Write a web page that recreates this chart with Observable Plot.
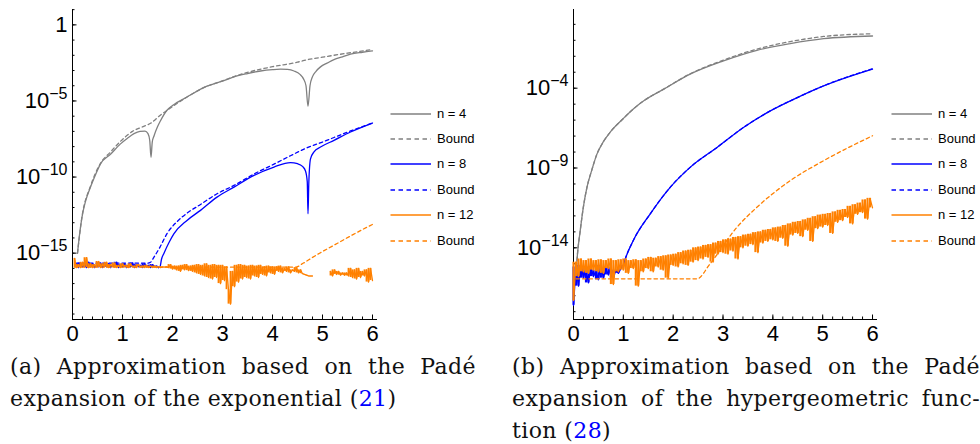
<!DOCTYPE html>
<html><head><meta charset="utf-8">
<script src="https://cdn.jsdelivr.net/npm/d3@7"></script>
<script src="https://cdn.jsdelivr.net/npm/@observablehq/plot@0.6"></script>
<style>
html,body{margin:0;padding:0;background:#fff;}
#page{position:relative;width:980px;height:444px;overflow:hidden;background:#fff;}
.panel{position:absolute;top:0;}
.legend{position:absolute;font-family:"Liberation Sans",Arial,sans-serif;font-size:13px;color:#000;}
.legend .row{position:absolute;left:0;height:16px;width:100px;white-space:nowrap;}
.legend svg{position:absolute;left:0;top:0;}
.legend span{position:absolute;top:0;line-height:16px;}
.caption{position:absolute;font-family:"DejaVu Serif",serif;font-size:22px;line-height:32px;color:#111;letter-spacing:0.4px;white-space:nowrap;}
.caption .j{text-align:justify;text-align-last:justify;white-space:normal;}
.ref{color:#0000ff;}
</style></head><body><div id="page"></div>
<script>
const COLORS = {gray: "#808080", blue: "#0000ff", orange: "#ff8000"};
const legendLabels = ["n = 4", "Bound", "n = 8", "Bound", "n = 12", "Bound"];
const xMajorTicks = [0, 1, 2, 3, 4, 5, 6];
const xMinorTicks = d3.range(0, 6.001, 0.2);

// ---------- Panel (a): log10 of the error ----------
const yExpA = [-19.36, 1.01];
const yMajorA = [0, -5, -10, -15];
const grayA_x = [0.10,0.14,0.19,0.26,0.36,0.46,0.56,0.76,0.96,1.10,1.23,1.35,1.45,1.51,1.545,1.57,1.595,1.63,1.70,1.76,1.89,2.00,2.29,2.69,3.00,3.23,3.50,3.76,4.00,4.16,4.30,4.43,4.55,4.62,4.67,4.71,4.75,4.80,4.87,4.96,5.10,5.23,5.40,5.56,5.80,6.00];
const grayA_y = [-15.0,-13.8,-12.63,-11.6,-10.66,-9.85,-9.13,-8.5,-7.82,-7.45,-7.15,-7.0,-6.98,-7.15,-7.6,-8.7,-7.7,-7.3,-6.7,-6.3,-5.61,-5.3,-4.74,-4.03,-3.7,-3.42,-3.2,-3.03,-2.94,-2.91,-2.93,-3.03,-3.25,-3.55,-4.0,-5.35,-4.0,-3.4,-3.05,-2.76,-2.5,-2.28,-2.1,-1.93,-1.8,-1.71];
const grayBoundA_x = [0.10,0.19,0.36,0.56,0.76,0.96,1.20,1.40,1.57,1.75,1.90,2.29,2.69,3.00,3.23,3.50,4.00,4.50,4.71,5.00,5.50,6.00];
const grayBoundA_y = [-15.0,-12.6,-10.6,-9.1,-8.35,-7.65,-7.0,-6.7,-6.45,-5.95,-5.6,-4.74,-4.03,-3.68,-3.4,-3.12,-2.75,-2.45,-2.28,-2.12,-1.86,-1.62];
const blueNoiseA_x0 = 0.08, noiseStepA = 0.04;
const blueNoiseA_y = [-15.7,-15.95,-15.65,-15.9,-15.75,-15.95,-15.6,-15.9,-15.7,-15.95,
  -15.8,-15.9,-15.65,-15.95,-15.75,-15.9,-15.7,-15.95,-15.8,-15.9,
  -15.6,-15.95,-15.75,-15.9,-15.7,-15.95,-15.8,-15.9,-15.65,-15.95,
  -15.75,-15.9,-15.8,-15.95,-15.7,-15.9,-15.8,-15.95,-15.75,-15.9,
  -15.85,-15.95];
const blueA_x = [1.72,1.75,1.78,1.83,1.93,2.03,2.29,2.56,2.89,3.23,3.63,4.03,4.36,4.50,4.60,4.66,4.695,4.71,4.725,4.76,4.83,4.96,5.23,5.56,6.00];
const blueA_y = [-15.95,-15.9,-15.4,-15.0,-14.3,-13.72,-12.85,-12.19,-11.32,-10.66,-9.89,-9.34,-9.05,-9.12,-9.3,-9.6,-10.3,-12.41,-10.5,-8.8,-8.35,-8.03,-7.59,-7.04,-6.45];
const blueBoundA_x = [0.08,1.50,1.56,1.63,1.75,1.89,2.10,2.30,2.56,2.89,3.23,3.63,4.03,4.36,4.71,5.00,5.23,5.56,6.00];
const blueBoundA_y = [-15.66,-15.66,-15.6,-15.26,-14.6,-13.72,-12.9,-12.35,-11.8,-11.1,-10.55,-9.8,-9.15,-8.6,-8.05,-7.7,-7.4,-6.97,-6.45];
const orangeA1_x0 = 0.04;
const orangeA1_y = [-15.35,-15.95,-15.75,-15.95,-15.6,-15.9,-15.3,-15.95,-15.7,-15.95,
  -15.75,-15.9,-15.55,-15.95,-15.7,-15.9,-15.6,-15.95,-15.75,-15.9,
  -15.65,-15.95,-15.8,-15.95,-15.7,-15.9,-15.8,-15.95,-15.7,-15.9,
  -15.85,-15.95,-15.75,-15.9,-15.85,-15.95,-15.8,-15.95,-15.85,-15.95,
  -15.85,-15.95,-15.88,-15.95,-15.9,-15.92,-15.9,-15.95,-15.75,-16.05,
  -15.85,-16.1,-15.85,-16.2,-15.8,-16.1,-15.75,-16.15,-15.85,-16.2,
  -15.8,-16.3,-15.75,-16.4,-15.8,-16.5,-15.7,-16.6,-15.8,-16.7,
  -15.75,-16.6,-15.8,-17.0,-15.8,-16.8,-15.9,-17.4,-18.35,-16.2,
  -17.2,-15.8,-16.9,-15.75,-16.7,-15.8,-16.6,-15.85,-16.7,-15.8,
  -16.5,-15.85,-16.6,-15.8,-16.4,-15.9,-16.5,-15.85,-16.3,-15.9,
  -16.4,-15.9,-16.2,-15.85,-16.3,-16.0,-16.2,-15.9,-16.3,-16.1,
  -16.2,-15.95,-16.3,-16.1,-16.35,-16.4,-16.45,-16.5,-16.5,-16.5];
const orangeA2_x0 = 5.16;
const orangeA2_y = [-16.2,-16.5,-16.1,-16.4,-16.2,-16.45,-16.3,-16.45,-16.3,-16.5,-16.0,-16.6,-16.1,-16.7,-16.0,-16.6,-16.2,-16.5,-16.1,-16.9,-16.0,-16.8];
const orangeBoundA_x = [0.04,4.46,4.62,4.80,4.96,5.30,5.60,6.00];
const orangeBoundA_y = [-15.92,-15.92,-15.65,-15.28,-14.97,-14.35,-13.8,-13.11];

// ---------- Panel (b) ----------
const yExpB = [-18.49, 0.93];
const yMajorB = [-4, -9, -14];
const grayB_x = [0.06,0.08,0.135,0.2,0.27,0.37,0.47,0.6,0.74,1.0,1.2,1.41,1.81,2.34,3.01,3.68,4.35,5.02,6.0];
const grayB_y = [-15.2,-14.38,-12.92,-11.4,-10.21,-9.1,-8.13,-7.35,-6.74,-5.9,-5.3,-4.79,-4.06,-3.12,-2.29,-1.63,-1.21,-0.9,-0.73];
const grayBoundB_x = [0.06,0.08,0.135,0.2,0.27,0.37,0.47,0.6,0.74,1.0,1.2,1.41,1.81,2.34,3.01,3.68,4.35,5.02,6.0];
const grayBoundB_y = [-15.2,-14.38,-12.92,-11.4,-10.21,-9.1,-8.13,-7.35,-6.74,-5.9,-5.3,-4.79,-4.06,-3.1,-2.24,-1.55,-1.08,-0.76,-0.59];
const blueNoiseB_x0 = 0, noiseStepB = 0.05;
const blueNoiseB_y = [-17.6,-15.2,-16.4,-15.1,-15.9,-15.3,-16.2,-15.2,-15.8,-15.4,-16.0,-15.1,-15.9,-15.3,-15.7,-15.2,-15.9,-15.4,-15.6,-15.3,-15.1];
const blueB_x = [1.0,1.04,1.2,1.54,1.94,2.34,2.88,3.41,3.95,4.49,5.02,6.0];
const blueB_y = [-15.1,-14.69,-13.54,-11.87,-10.21,-8.96,-7.71,-6.46,-5.42,-4.59,-3.86,-2.81];
const blueBoundB_y = [-15.1,-14.69,-13.54,-11.87,-10.21,-8.96,-7.71,-6.46,-5.42,-4.59,-3.85,-2.78];
const orangeB_x0 = 0;
const orangeB_y = [-17.3,-14.9,-15.8,-14.7,-15.5,-14.8,-15.6,-14.7,-15.4,-14.8,
  -15.5,-14.75,-15.6,-14.8,-15.3,-14.7,-16.3,-14.8,-15.5,-14.75,
  -15.4,-14.7,-15.6,-14.8,-15.3,-14.75,-16.4,-14.8,-15.5,-14.7,
  -15.3,-14.6,-15.5,-14.65,-15.2,-14.55,-15.4,-14.5,-15.9,-14.45,
  -15.1,-14.4,-15.2,-14.3,-15.0,-14.2,-15.1,-14.15,-14.9,-14.0,
  -14.8,-13.95,-14.7,-13.85,-14.6,-13.8,-14.9,-13.7,-14.4,-13.6,
  -14.3,-13.5,-14.4,-13.45,-14.2,-13.35,-14.7,-13.3,-14.0,-13.2,
  -13.9,-13.15,-13.8,-13.05,-14.3,-13.0,-13.7,-12.9,-13.6,-12.85,
  -13.5,-12.75,-13.6,-12.7,-13.4,-12.6,-13.9,-12.5,-13.2,-12.4,
  -13.1,-12.35,-13.3,-12.25,-12.9,-12.15,-13.6,-12.05,-12.8,-11.95,
  -12.7,-11.9,-12.6,-11.85,-13.1,-11.75,-12.4,-11.65,-12.3,-11.6,
  -12.1,-11.4,-12.5,-11.3,-11.9,-11.2,-11.8,-11.0,-12.2,-10.9,
  -11.5];
const orangeBoundB_x = [0.05,2.48,2.74,3.28,3.68,4.35,5.02,6.0];
const orangeBoundB_y = [-15.94,-15.94,-15.0,-12.71,-11.46,-9.79,-8.54,-6.98];

// ---------- helpers ----------
const pts = (xs, ys) => xs.map((x, i) => ({x, y: 10 ** ys[i]}));
const grid = (x0, step, ys) => ys.map((v, i) => ({x: x0 + i * step, y: 10 ** v}));
// vertical strokes between consecutive samples of a noisy series (dense-noise look)
const strokes = d => d.slice(0, -1).map((p, i) => ({x: p.x, y1: p.y, y2: d[i + 1].y}));
const SOLID = 1.3, DASH = "3.5,3";
const AXIS_FONT = 22;

function makePanel({marginLeft, marginRight, yExp, yMajor, series, noiseWidth}) {
  const yDomain = [10 ** yExp[0], 10 ** yExp[1]];
  const decades = d3.range(Math.ceil(yExp[0]), Math.floor(yExp[1]) + 1).map(e => 10 ** e);
  const majors = yMajor.map(e => 10 ** e);
  const fmt = d => { const e = Math.round(Math.log10(d)); return e === 0 ? "1" : "10^" + e; };
  const marks = [
    Plot.ruleX([0], {stroke: "#000", strokeWidth: 1}),
    Plot.ruleY([yDomain[0]], {stroke: "#000", strokeWidth: 1}),
    Plot.axisY({ticks: decades, tickSize: -2.5, tickFormat: () => "", label: null}),
    Plot.axisY({ticks: majors, tickSize: -4.5, tickFormat: () => "", label: null}),
    Plot.axisY({ticks: majors, tickSize: 0, tickPadding: 5, tickFormat: fmt, label: null, fontSize: AXIS_FONT}),
    Plot.axisX({ticks: xMinorTicks, tickSize: -2.5, tickFormat: () => "", label: null}),
    Plot.axisX({ticks: xMajorTicks, tickSize: -4.5, tickFormat: () => "", label: null}),
    Plot.axisX({ticks: xMajorTicks, tickSize: 0, tickPadding: 6, tickFormat: d => String(d), label: null, fontSize: AXIS_FONT})
  ];
  for (const s of series) {
    marks.push(Plot.line(s.data, {x: "x", y: "y", stroke: s.color, strokeWidth: SOLID,
      strokeDasharray: s.dashed ? DASH : null, strokeLinejoin: "round",
      curve: s.noisy ? "linear" : "monotone-x"}));
    if (s.noisy) marks.push(Plot.ruleX(strokes(s.data), {x: "x", y1: "y1", y2: "y2", stroke: s.color, strokeWidth: noiseWidth}));
  }
  const svg = Plot.plot({
    width: 490, height: 345, marginLeft, marginRight, marginTop: 9, marginBottom: 26,
    x: {domain: [0, 6.1], label: null},
    y: {type: "log", domain: yDomain, label: null},
    style: {fontFamily: "'Liberation Sans', Arial, sans-serif", fontSize: AXIS_FONT + "px", color: "#000", background: "transparent", overflow: "visible"},
    marks
  });
  svg.querySelectorAll('g[aria-label="y-axis tick label"] text').forEach(t => {
    const m = t.textContent.match(/^10\^(.+)$/);
    if (m) {
      t.textContent = "10";
      const ts = document.createElementNS("http://www.w3.org/2000/svg", "tspan");
      ts.setAttribute("dy", "-9");
      ts.setAttribute("font-size", "16");
      ts.textContent = m[1].replace("-", "\u2212");
      t.appendChild(ts);
    }
  });
  return svg;
}

function makeLegend(left, top, entries) {
  const div = document.createElement("div");
  div.className = "legend";
  div.style.left = left + "px";
  div.style.top = top + "px";
  entries.forEach((e, i) => {
    const row = document.createElement("div");
    row.className = "row";
    row.style.top = (i * 25.45) + "px";
    row.innerHTML = `<svg width="42" height="16"><line x1="0.5" x2="41" y1="8" y2="8" stroke="${e.color}" stroke-width="1.5" ${e.dashed ? 'stroke-dasharray="4.5,3.5"' : ''}/></svg><span style="left:47px">${e.label}</span>`;
    div.appendChild(row);
  });
  return div;
}

const page = document.getElementById("page");
const order = [["gray", false], ["gray", true], ["blue", false], ["blue", true], ["orange", false], ["orange", true]];
const legendEntries = order.map(([c, d], i) => ({color: COLORS[c], dashed: d, label: legendLabels[i]}));

const svgA = makePanel({
  marginLeft: 72, marginRight: 113, yExp: yExpA, yMajor: yMajorA, noiseWidth: 1.8,
  series: [
    {data: pts(grayA_x, grayA_y), color: COLORS.gray},
    {data: pts(grayBoundA_x, grayBoundA_y), color: COLORS.gray, dashed: true},
    {data: grid(blueNoiseA_x0, noiseStepA, blueNoiseA_y), color: COLORS.blue, noisy: true},
    {data: pts(blueA_x, blueA_y), color: COLORS.blue},
    {data: pts(blueBoundA_x, blueBoundA_y), color: COLORS.blue, dashed: true},
    {data: grid(orangeA1_x0, noiseStepA, orangeA1_y), color: COLORS.orange, noisy: true},
    {data: grid(orangeA2_x0, noiseStepA, orangeA2_y), color: COLORS.orange, noisy: true},
    {data: pts(orangeBoundA_x, orangeBoundA_y), color: COLORS.orange, dashed: true}
  ]
});
const wA = document.createElement("div"); wA.className = "panel"; wA.style.left = "0px"; wA.appendChild(svgA); page.appendChild(wA);

const svgB = makePanel({
  marginLeft: 83, marginRight: 103, yExp: yExpB, yMajor: yMajorB, noiseWidth: 2.1,
  series: [
    {data: pts(grayB_x, grayB_y), color: COLORS.gray},
    {data: pts(grayBoundB_x, grayBoundB_y), color: COLORS.gray, dashed: true},
    {data: grid(blueNoiseB_x0, noiseStepB, blueNoiseB_y), color: COLORS.blue, noisy: true},
    {data: pts(blueB_x, blueB_y), color: COLORS.blue},
    {data: pts(blueB_x, blueBoundB_y), color: COLORS.blue, dashed: true},
    {data: grid(orangeB_x0, noiseStepB, orangeB_y), color: COLORS.orange, noisy: true},
    {data: pts(orangeBoundB_x, orangeBoundB_y), color: COLORS.orange, dashed: true}
  ]
});
const wB = document.createElement("div"); wB.className = "panel"; wB.style.left = "490px"; wB.appendChild(svgB); page.appendChild(wB);

page.appendChild(makeLegend(390, 105.5, legendEntries));
page.appendChild(makeLegend(891, 105.5, legendEntries));

const capA = document.createElement("div");
capA.className = "caption"; capA.style.left = "10px"; capA.style.top = "351px"; capA.style.width = "466px";
capA.innerHTML = `<div class="j">(a) Approximation based on the Padé</div><div>expansion of the exponential (<span class="ref">21</span>)</div>`;
page.appendChild(capA);
const capB = document.createElement("div");
capB.className = "caption"; capB.style.left = "512px"; capB.style.top = "351px"; capB.style.width = "468px";
capB.innerHTML = `<div class="j">(b) Approximation based on the Padé</div><div class="j">expansion of the hypergeometric func-</div><div>tion (<span class="ref">28</span>)</div>`;
page.appendChild(capB);
</script></body></html>
